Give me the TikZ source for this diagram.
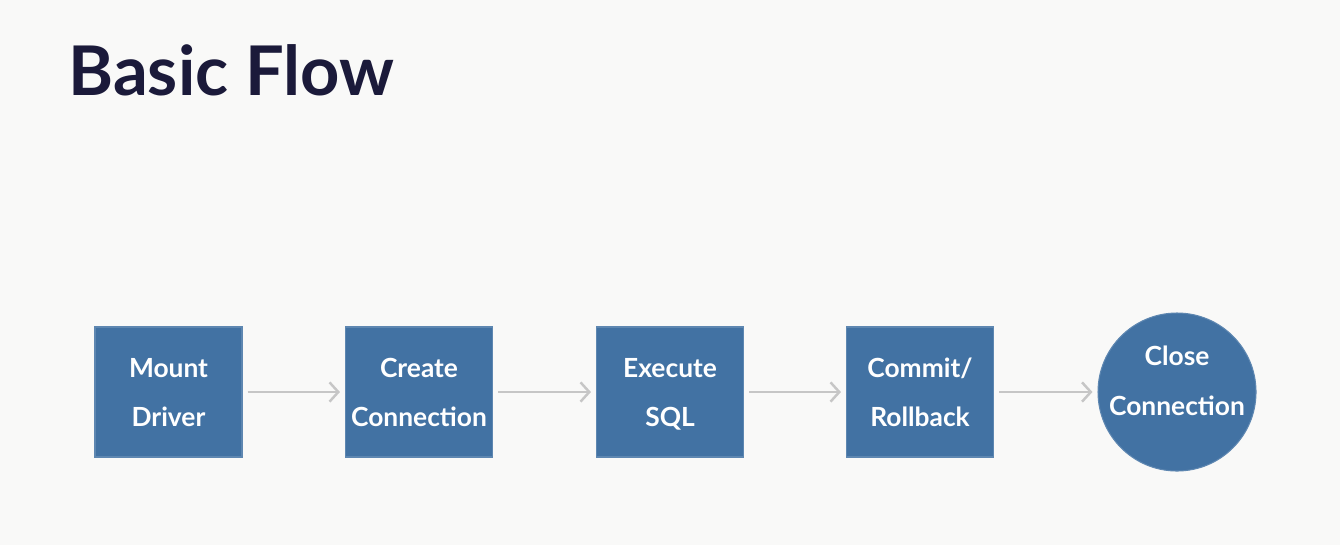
\documentclass[tikz,border=0pt]{standalone}
\usepackage{fontspec}
\setmainfont{Lato}
\usepackage{tikz}
\usetikzlibrary{arrows.meta, positioning}

\definecolor{boxblue}{HTML}{4272A3}
\definecolor{titlenavy}{HTML}{1B1A3A}
\definecolor{arrgray}{HTML}{C6C6C6}
\definecolor{slidebg}{HTML}{F9F9F8}

\begin{document}
\begin{tikzpicture}[
    stepbox/.style={fill=boxblue, draw=boxblue!85!white, line width=0.6pt, minimum width=2.94cm, minimum height=2.6cm, inner sep=0pt, align=center, text=white, font=\bfseries\fontsize{15}{28}\selectfont},
    endnode/.style={stepbox, circle, minimum size=3.16cm, inner sep=-0.12cm, text depth=0.45cm},
    arr/.style={-{Straight Barb[length=5pt, width=11pt]}, line width=1.4pt, arrgray, shorten <=0.1cm, shorten >=0.1cm},
]

% Background
\fill[slidebg] (0, 0) rectangle (26.8, -10.9);
\useasboundingbox (0, 0) rectangle (26.8, -10.9);

% Title
\node[font=\bfseries\fontsize{39}{44}\selectfont, text=titlenavy, anchor=base west, inner sep=0pt] (title) at (1.36, -1.9) {Basic Flow};

% Steps
\node[stepbox] (mount) at (3.37, -7.84) {Mount\strut\\Driver\strut};
\node[stepbox] (create) at (8.38, -7.84) {Create\strut\\Connection\strut};
\node[stepbox] (exec) at (13.40, -7.84) {Execute\strut\\SQL\strut};
\node[stepbox] (commit) at (18.40, -7.84) {Commit/\strut\\Rollback\strut};
\node[endnode] (close) at (23.54, -7.84) {Close\\Connection};

% Arrows
\draw[arr] (mount) -- (create);
\draw[arr] (create) -- (exec);
\draw[arr] (exec) -- (commit);
\draw[arr] (commit) -- (close);

\end{tikzpicture}
\end{document}
